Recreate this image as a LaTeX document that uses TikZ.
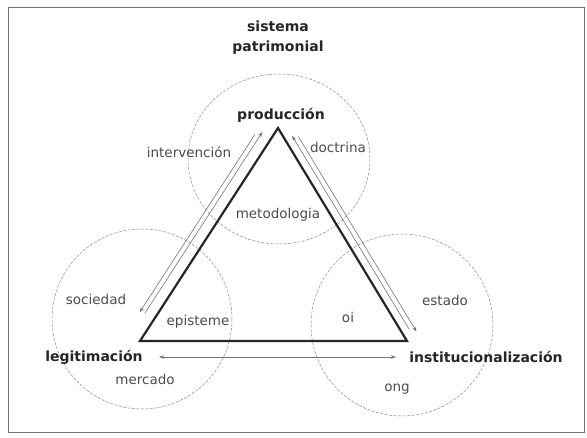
\documentclass[tikz,border=0pt]{standalone}
\usepackage{fontspec}
\setmainfont{DejaVu Sans}
\usetikzlibrary{arrows.meta}
\begin{document}
\begin{tikzpicture}[x=1pt,y=-1pt,
  lbl/.style={font=\fontsize{13.5}{15}\selectfont, text=black!70, inner sep=0pt},
  blbl/.style={font=\fontsize{14}{20}\selectfont\bfseries, text=black!85, inner sep=0pt, align=center},
  ring/.style={draw=black!45, line width=0.5pt, dash pattern=on 3pt off 1.5pt},
  tri/.style={draw=black!85, line width=2.2pt, line join=miter},
  flow/.style={draw=black!55, line width=0.6pt},
  tipend/.style={-{Stealth[length=5pt,width=3.5pt]}},
  tipboth/.style={{Stealth[length=5pt,width=3.5pt]}-{Stealth[length=5pt,width=3.5pt]}}]
\useasboundingbox (0,0) rectangle (587,437);
\fill[white] (0,0) rectangle (587,437);
\draw[black!55, line width=1pt] (8,7) rectangle (584,432);

% circles
\draw[ring] (279,159) ellipse [x radius=91, y radius=85];
\draw[ring] (142,319) ellipse [x radius=90, y radius=90];
\draw[ring] (402,325) ellipse [x radius=91, y radius=91];

% triangle
\coordinate (T) at (278,128);
\coordinate (L) at (140,341);
\coordinate (R) at (407,341);
\draw[tri] (T) -- (R) -- (L) -- cycle;

% flow lines, left side
\coordinate (lo1) at (255,134.3);
\coordinate (lo2) at (139.7,312.2);
\coordinate (li1) at (144.9,313.2);
\coordinate (li2) at (262.4,132);
\draw[flow,tipend] (lo1) -- (lo2);
\draw[flow,tipend] (li1) -- (li2);
% flow lines, right side
\coordinate (ri1) at (409.1,329.1);
\coordinate (ri2) at (292.1,135.9);
\coordinate (ro1) at (298.4,136.7);
\coordinate (ro2) at (416.5,331.6);
\draw[flow,tipend] (ri1) -- (ri2);
\draw[flow,tipend] (ro1) -- (ro2);
% flow line, base
\coordinate (b1) at (159,357);
\coordinate (b2) at (396,357);
\draw[flow,tipboth] (b1) -- (b2);

% labels
\node[blbl] (sis) at (278,38) {sistema\\patrimonial};
\node[blbl] (prod) at (281,115) {producción};
\node[blbl] (leg) at (94,357) {legitimación};
\node[blbl] (inst) at (486,357) {institucionalización};
\node[lbl] (interv) at (189,152) {intervención};
\node[lbl] (doct) at (338,147) {doctrina};
\node[lbl] (metod) at (278,215) {metodologia};
\node[lbl] (soc) at (96,299) {sociedad};
\node[lbl] (epis) at (198,322) {episteme};
\node[lbl] (merc) at (145,379) {mercado};
\node[lbl] (oi) at (348,317) {oi};
\node[lbl] (est) at (445,300) {estado};
\node[lbl] (ong) at (397,389) {ong};
\end{tikzpicture}
\end{document}
